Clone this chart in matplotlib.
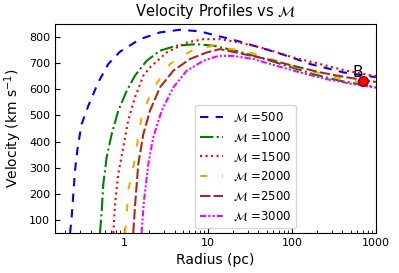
import matplotlib
matplotlib.use("Agg")
import matplotlib.pyplot as plt

# values (radius in pc, velocity in km/s)
r_500 = [0.228, 0.238, 0.261, 0.281, 0.313, 0.376, 0.494, 0.650, 0.896, 1.55, 2.68, 4.64, 8.03, 12.7, 16.7, 26.3, 41.6, 65.8, 104, 164, 259, 408, 929, 1000]
v_500 = [50, 110, 289, 378, 467, 537, 627, 697, 744, 792, 818, 828, 822, 805, 796, 779, 760, 741, 720, 697, 681, 665, 648, 646]

r_1000 = [0.518, 0.543, 0.567, 0.622, 0.714, 0.855, 1.08, 1.35, 1.86, 2.68, 4.24, 7.33, 11.6, 20.0, 41.6, 86.5, 179, 373, 929, 1000]
v_1000 = [50, 135, 237, 340, 429, 518, 595, 652, 709, 748, 767, 773, 767, 750, 722, 690, 658, 633, 610, 608]

r_1500 = [0.746, 0.782, 0.855, 0.981, 1.12, 1.35, 1.70, 2.04, 3.22, 5.58, 8.79, 13.9, 24.0, 50.0, 104, 215, 448, 929, 1000]
v_1500 = [50, 161, 276, 378, 480, 569, 652, 684, 741, 779, 792, 792, 779, 754, 722, 697, 671, 652, 650]

r_2000 = [1.03, 1.08, 1.12, 1.29, 1.62, 2.14, 3.53, 6.40, 11.6, 13.9, 26.3, 41.6, 104, 259, 448, 1000]
v_2000 = [50, 123, 212, 301, 493, 595, 697, 748, 767, 760, 748, 730, 688, 655, 637, 618]

r_2500 = [1.29, 1.35, 1.48, 1.70, 2.04, 2.68, 3.86, 6.10, 9.66, 13.9, 26.3, 50.0, 104, 215, 448, 929, 1000]
v_2500 = [50, 149, 314, 429, 518, 607, 671, 716, 741, 754, 735, 716, 690, 665, 646, 630, 628]

r_3000 = [1.62, 1.73, 1.95, 2.23, 2.81, 3.86, 5.58, 8.79, 13.3, 20.0, 34.6, 65.8, 124, 259, 537, 929, 1000]
v_3000 = [50, 174, 314, 416, 518, 607, 671, 709, 728, 728, 716, 690, 665, 639, 620, 608, 606]

mach = [500, 1000, 1500, 2000, 2500, 3000]
point_b = (700, 630)

fig = plt.figure(figsize=(3.99, 2.73), dpi=100)
ax = fig.add_axes([0.138, 0.1465, 0.804, 0.7655])

ax.plot(r_500, v_500, color="blue", ls=(0, (4, 3.5)), lw=1.5, label=r"$\mathcal{M}$ =%d" % mach[0])
ax.plot(r_1000, v_1000, color="green", ls="-.", lw=1.5, label=r"$\mathcal{M}$ =%d" % mach[1])
ax.plot(r_1500, v_1500, color="red", ls=":", lw=1.5, label=r"$\mathcal{M}$ =%d" % mach[2])
ax.plot(r_2000, v_2000, color="orange", ls=(0, (3.5, 7)), lw=1.5, label=r"$\mathcal{M}$ =%d" % mach[3])
ax.plot(r_2500, v_2500, color="brown", ls=(0, (5, 1.5)), lw=1.5, label=r"$\mathcal{M}$ =%d" % mach[4])
ax.plot(r_3000, v_3000, color="magenta", ls=(0, (3, 1, 1, 1, 1, 1)), lw=1.5, label=r"$\mathcal{M}$ =%d" % mach[5])

ax.plot(point_b[0], point_b[1], "o", color="red", markeredgecolor="darkred", markersize=7, zorder=5)
ax.text(point_b[0], 648, "B", fontsize=11, ha="right", va="baseline")

ax.set_xscale("log")
ax.set_xlim(0.151, 1000)
ax.set_ylim(50, 850)
ax.set_xticks([1, 10, 100, 1000])
ax.set_xticklabels(["1", "10", "100", "1000"])
ax.set_yticks(range(100, 900, 100))
ax.tick_params(which="both", direction="in", labelsize=8)

ax.set_title(r"Velocity Profiles vs $\mathcal{M}$", fontsize=10.5)
ax.set_xlabel("Radius (pc)", fontsize=10)
ax.set_ylabel(r"Velocity (km s$^{-1}$)", fontsize=10)

ax.legend(loc="lower left", bbox_to_anchor=(0.436, 0.024), borderaxespad=0, fontsize=8.5)

fig.savefig("out.png", dpi=100)
